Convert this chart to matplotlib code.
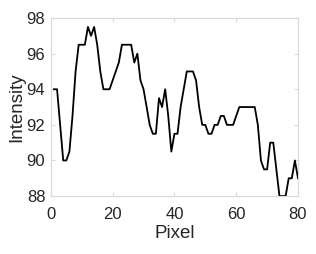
import matplotlib.pyplot as plt
import numpy as np

plt.rcParams['font.family'] = ['Liberation Sans', 'DejaVu Sans']

pixel = np.arange(1, 81)
intensity = [94, 94, 92, 90, 90, 90.5, 92.5, 95, 96.5, 96.5,
             96.5, 97.5, 97, 97.5, 96.5, 95, 94, 94, 94, 94.5,
             95, 95.5, 96.5, 96.5, 96.5, 96.5, 95.5, 96, 94.5, 94,
             93, 92, 91.5, 91.5, 93.5, 93, 94, 92.5, 90.5, 91.5,
             91.5, 93, 94, 95, 95, 95, 94.5, 93, 92, 92,
             91.5, 91.5, 92, 92, 92.5, 92.5, 92, 92, 92, 92.5,
             93, 93, 93, 93, 93, 93, 92, 90, 89.5, 89.5,
             91, 91, 89.5, 88, 88, 88, 89, 89, 90, 89]
xticks = [0, 20, 40, 60, 80]
yticks = [88, 90, 92, 94, 96, 98]

fig = plt.figure(figsize=(3.16, 2.54), dpi=100)
ax = fig.add_axes([0.161, 0.228, 0.782, 0.701])
ax.plot(pixel, intensity, color='black', linewidth=1.3)

ax.set_xlim(0, 80)
ax.set_ylim(88, 98)
ax.set_xticks(xticks)
ax.set_yticks(yticks)
for s in ax.spines.values():
    s.set_color('#d9d9d9')
    s.set_linewidth(0.8)
ax.tick_params(direction='in', length=3, width=0.8, color='#d9d9d9',
               labelcolor='#262626', labelsize=12, top=True, right=True)
ax.tick_params(axis='x', pad=8)
ax.tick_params(axis='y', pad=4)
ax.set_xlabel('Pixel', fontsize=13.5, color='#262626', labelpad=2)
ax.set_ylabel('Intensity', fontsize=13.5, color='#262626', labelpad=1)

fig.savefig('out.png', dpi=100)
